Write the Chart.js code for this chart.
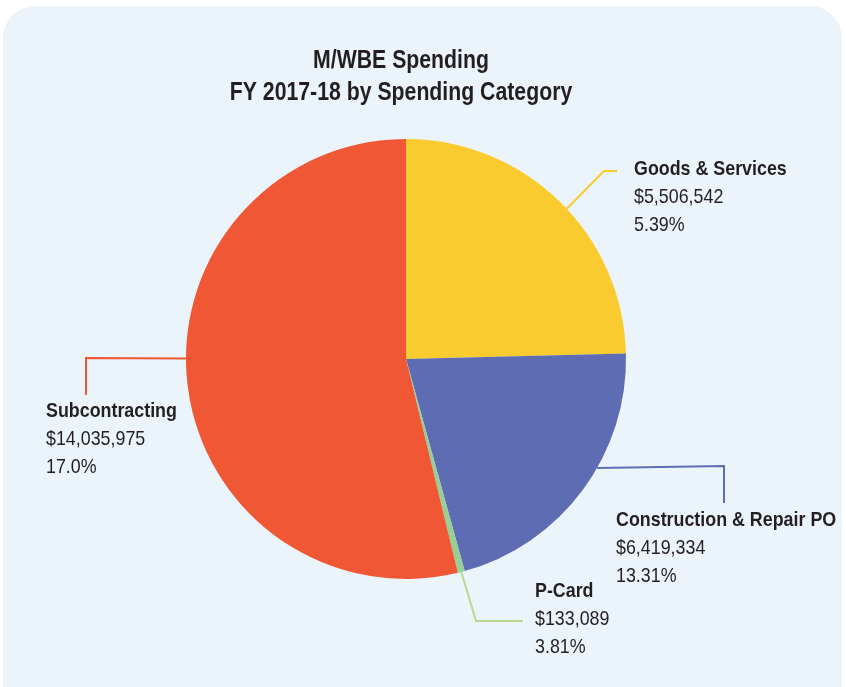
<!DOCTYPE html>
<html>
<head>
<meta charset="utf-8">
<script src="https://cdn.jsdelivr.net/npm/chart.js@4"></script>
<style>
  html, body { margin: 0; padding: 0; background: #ffffff; }
  #card {
    position: absolute; left: 3px; top: 6px; width: 839px; height: 720px;
    background: #ebf4fa; border-radius: 32px;
  }
  #chart { position: absolute; left: 0; top: 0; }
</style>
</head>
<body>
<div id="card"></div>
<canvas id="chart" width="846" height="687"></canvas>
<script>
// Slices in drawing order, clockwise from 12 o'clock
const categories = ['Goods & Services', 'Construction & Repair PO', 'P-Card', 'Subcontracting'];
// slice sizes as drawn in the picture
const sliceValues = [6419334, 5506542, 133089, 14035975];
// label texts as printed next to each slice
const amountLabels = ['$5,506,542', '$6,419,334', '$133,089', '$14,035,975'];
const percentLabels = ['5.39%', '13.31%', '3.81%', '17.0%'];
const sliceColors = ['#f9cb2e', '#5e6db3', '#97cf94', '#ef5735'];
const leaderColors = ['#f9cb2e', '#5e6db3', '#b8d990', '#ef5735'];
const titleLines = ['M/WBE Spending', 'FY 2017-18 by Spending Category'];

// Label layout: where along the slice the leader starts, its bend points and the text origin
const labelLayout = [
    { frac: 0.53, path: [[604, 171], [617, 171]], text: [634, 169] },
    { frac: 0.41, path: [[724, 466], [724, 503]], text: [616, 520] },
    { frac: 0.5, path: [[476, 621], [523, 621]], text: [535, 591] },
    { frac: 0.536, path: [[86, 358], [86, 395]], text: [46, 411] }
];

const FONT = '"Liberation Sans", Arial, sans-serif';
const TEXT_COLOR = '#231f20';
const NARROW = 0.85;  // squeeze text horizontally to look like a condensed face

function narrowText(ctx, str, x, y, font, align) {
    ctx.save();
    ctx.font = font;
    ctx.textAlign = align;
    ctx.textBaseline = 'middle';
    ctx.fillStyle = TEXT_COLOR;
    ctx.translate(x, y);
    ctx.scale(NARROW, 1);
    ctx.fillText(str, 0, 0);
    ctx.restore();
}

const labelPlugin = {
    id: 'calloutLabels',
    afterDraw(chart) {
        const ctx = chart.ctx;
        const arcs = chart.getDatasetMeta(0).data;

        // title
        narrowText(ctx, titleLines[0], 401, 61, 'bold 25px ' + FONT, 'center');
        narrowText(ctx, titleLines[1], 401, 93, 'bold 25px ' + FONT, 'center');

        arcs.forEach((arc, i) => {
            const p = arc.getProps(['x', 'y', 'startAngle', 'endAngle', 'outerRadius'], true);
            const lay = labelLayout[i];
            const a = p.startAngle + (p.endAngle - p.startAngle) * lay.frac;
            const sx = p.x + Math.cos(a) * p.outerRadius;
            const sy = p.y + Math.sin(a) * p.outerRadius;

            ctx.save();
            ctx.strokeStyle = leaderColors[i];
            ctx.lineWidth = 2;
            ctx.beginPath();
            ctx.moveTo(sx, sy);
            lay.path.forEach(pt => ctx.lineTo(pt[0], pt[1]));
            ctx.stroke();
            ctx.restore();

            const tx = lay.text[0];
            const ty = lay.text[1];
            narrowText(ctx, categories[i], tx, ty, 'bold 21px ' + FONT, 'left');
            narrowText(ctx, amountLabels[i], tx, ty + 28, '21px ' + FONT, 'left');
            narrowText(ctx, percentLabels[i], tx, ty + 56, '21px ' + FONT, 'left');
        });
    }
};

new Chart(document.getElementById('chart'), {
    type: 'pie',
    data: {
        labels: categories,
        datasets: [{
            data: sliceValues,
            backgroundColor: sliceColors,
            borderWidth: 0
        }]
    },
    options: {
        responsive: false,
        animation: false,
        layout: {
            padding: { left: 186, right: 220, top: 139, bottom: 108 }
        },
        plugins: {
            legend: { display: false },
            tooltip: { enabled: false },
            title: { display: false }
        }
    },
    plugins: [labelPlugin]
});
</script>
</body>
</html>
